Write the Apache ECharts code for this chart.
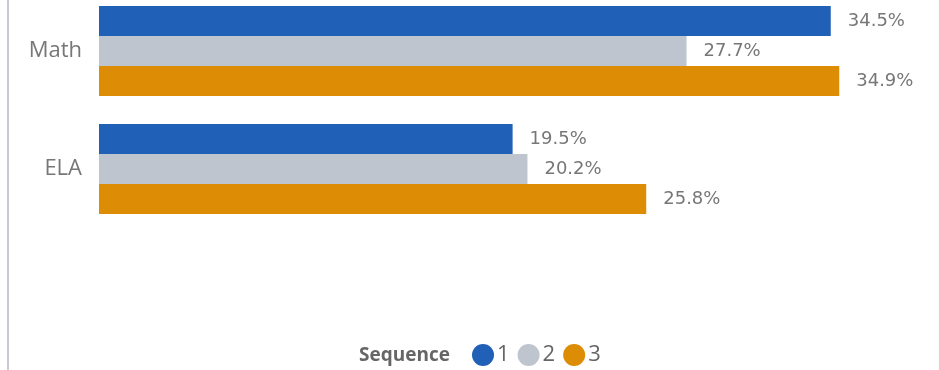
<!DOCTYPE html>
<html>
<head>
<meta charset="utf-8">
<script src="https://cdn.jsdelivr.net/npm/echarts@6/dist/echarts.min.js"></script>
<style>
  html, body { margin: 0; padding: 0; background: #fff; overflow: hidden; }
  #wrap { position: relative; width: 939px; height: 370px; overflow: hidden; }
  /* the canvas starts 8px above the page so the first band can begin above the top edge */
  #chart { position: absolute; left: 0; top: -8px; width: 939px; height: 378px; }
</style>
</head>
<body>
<div id="wrap"><div id="chart"></div></div>
<script>
// Subjects shown on the category axis (top to bottom)
const subjects = ['Math', 'ELA'];

// Sequence names and their percentage values per subject
const sequenceNames = ['1', '2', '3'];
const seq1 = [34.5, 19.5];
const seq2 = [27.7, 20.2];
const seq3 = [34.9, 25.8];

const seqColors = ['#2160B7', '#BFC5CE', '#DD8C06'];
const seriesValues = [seq1, seq2, seq3];

const chart = echarts.init(document.getElementById('chart'), null, { renderer: 'canvas' });

chart.setOption({
  animation: false,
  backgroundColor: '#ffffff',
  grid: { left: 99, right: 34, top: 0, height: 236, containLabel: false },
  xAxis: {
    type: 'value',
    min: 0,
    max: 38,
    show: false
  },
  yAxis: {
    type: 'category',
    data: subjects,
    inverse: true,
    axisLine: { show: false },
    axisTick: { show: false },
    axisLabel: {
      margin: 17,
      color: '#777777',
      fontFamily: 'Open Sans',
      fontSize: 22
    }
  },
  legend: {
    data: sequenceNames,
    left: 472,
    top: 352,
    padding: 0,
    icon: 'circle',
    itemWidth: 22,
    itemHeight: 22,
    itemGap: 8,
    textStyle: {
      color: '#666666',
      fontFamily: 'Open Sans',
      fontSize: 22,
      padding: [0, 0, 0, -2]
    }
  },
  graphic: [
    {
      type: 'line',
      shape: { x1: 8, y1: 0, x2: 8, y2: 378 },
      style: { stroke: '#C9CAD3', lineWidth: 2 }
    },
    {
      type: 'text',
      left: 359,
      top: 354,
      style: {
        text: 'Sequence',
        fill: '#666666',
        font: 'bold 19px "Open Sans"'
      }
    }
  ],
  series: seriesValues.map((vals, i) => ({
    name: sequenceNames[i],
    type: 'bar',
    data: vals,
    barWidth: 30,
    barGap: '0%',
    itemStyle: { color: seqColors[i] },
    label: {
      show: true,
      position: 'right',
      distance: 17,
      color: '#777777',
      fontFamily: 'DejaVu Sans',
      fontSize: 18,
      formatter: p => p.value.toFixed(1) + '%'
    }
  }))
});
</script>
</body>
</html>
